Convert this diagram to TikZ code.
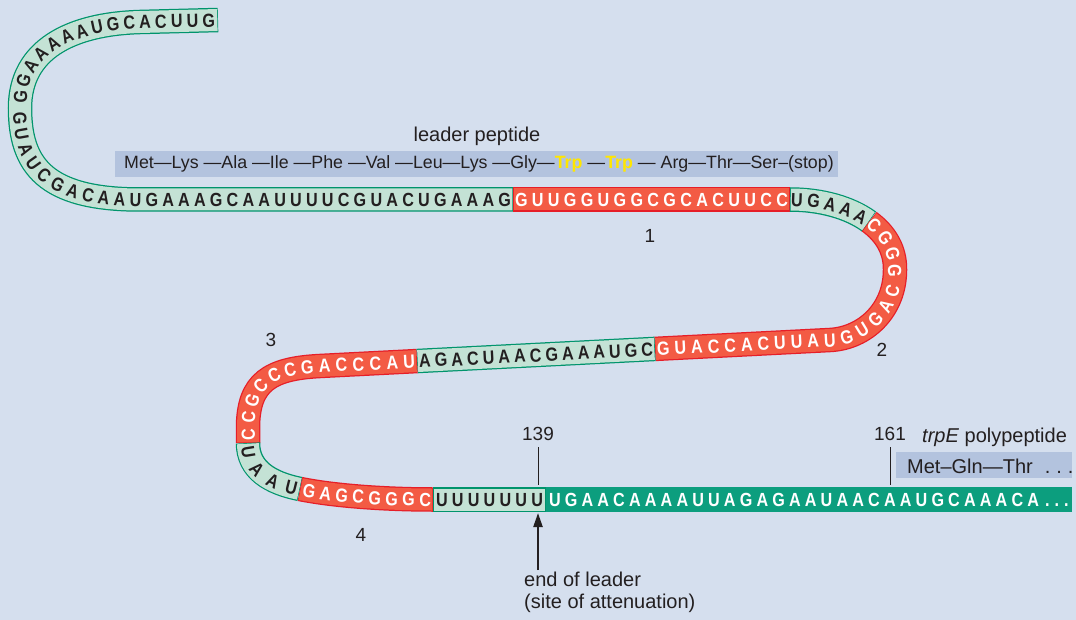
\documentclass[tikz,border=0pt]{standalone}
\usepackage{fontspec}
\setmainfont{Liberation Sans}
\newfontfamily\rnafont{Liberation Sans}[FakeStretch=0.85]
\usetikzlibrary{decorations.text,arrows.meta}
\definecolor{bg}{HTML}{D5DFEE}
\definecolor{boxc}{HTML}{B3C3DE}
\definecolor{gfillc}{HTML}{C4E2D5}
\definecolor{glinec}{HTML}{00946C}
\definecolor{rfillc}{HTML}{F35B44}
\definecolor{rlinec}{HTML}{E61E28}
\definecolor{darkc}{HTML}{0C9E7E}
\definecolor{ink}{HTML}{231F20}
\definecolor{trpy}{HTML}{FFE600}
\newcommand\dk{\rnafont\fontsize{19}{20}\selectfont\bfseries\color{ink}}
\newcommand\wt{\rnafont\fontsize{19}{20}\selectfont\bfseries\color{white}}
\newcommand\trp{\textcolor{trpy}{\bfseries Trp}}
\newcommand\ribseg[3]{\draw[ribout,draw=#1] #3; \draw[ribin,draw=#2] #3;}
\begin{document}
\begin{tikzpicture}[x=1pt,y=-1pt,
  ribout/.style={line width=24.5pt,line cap=butt},
  ribin/.style={line width=22pt,line cap=butt,shorten <=0.7pt,shorten >=0.7pt},
  rna/.style={decorate,decoration={text along path,text align={fit to path},raise=-6.8pt,text={#1}}},
  lbl/.style={font=\fontsize{20}{24}\selectfont,text=ink,inner sep=0pt},
  num/.style={font=\fontsize{19}{22}\selectfont,text=ink,inner sep=0pt},
  tick/.style={draw=ink,line width=1pt}]
\useasboundingbox (0,0) rectangle (1076,620);
\fill[bg] (0,0) rectangle (1076,620);
% ribbon
\ribseg{glinec}{gfillc}{(218,20) -- (140,22) .. controls (70,24) and (20,50) .. (20,108) .. controls (20,165) and (45,199.5) .. (140,199.5) -- (513,199.5)}
\ribseg{rlinec}{rfillc}{(513,199.5) -- (790,199.5)}
\ribseg{glinec}{gfillc}{(790,199.5) .. controls (820.25,199.5) and (849.29,207.21) .. (869.13,221.64)}
\ribseg{rlinec}{rfillc}{(869.13,221.64) .. controls (885.37,233.45) and (895.45,249.75) .. (895,270) .. controls (895,310) and (865,338.2) .. (830,340) -- (655,348.92)}
\ribseg{glinec}{gfillc}{(655,348.92) -- (417,361.05)}
\ribseg{rlinec}{rfillc}{(417,361.05) -- (320,366) .. controls (270,368.5) and (248,382) .. (248,428) -- (248,443)}
\ribseg{glinec}{gfillc}{(248,443) .. controls (248,470) and (270.6,483.1) .. (300,489)}
\ribseg{rlinec}{rfillc}{(300,489) .. controls (339.2,496.8) and (393,499.5) .. (433,499.5)}
\ribseg{glinec}{gfillc}{(433,499.5) -- (546,499.5)}
\ribseg{darkc}{darkc}{(546,499.5) -- (1072,499.5)}
% sequence text
\path[rna={|\dk|GGAAAAAUGCACUUG}] (20,103) .. controls (20,50) and (70,24) .. (140,22) -- (215,20);
\path[rna={|\dk|GUAUCGACAAUGAAAGCAAUUUUCGUACUGAAAG}] (20,112) .. controls (20,165) and (45,199.5) .. (140,199.5) -- (511,199.5);
\path[rna={|\wt|GUUGGUGGCGCACUUCC}] (515,199.5) -- (788,199.5);
\path[rna={|\dk|UGAAA|\wt|CGGG}] (791,199.5) .. controls (845,199.5) and (896,225) .. (895,270) -- (895,277);
\path[rna={|\wt|CCGCCCGACCCAU}] (248,440) -- (248,428) .. controls (248,382) and (270,368.5) .. (320,366) -- (415,361.15);
\path[rna={|\dk|AGACUAACGAAAUGC}] (419,360.95) -- (653,349.02);
\path[rna={|\wt|GUACCACUUAUGUGAC}] (657,348.82) -- (830,340) .. controls (860.45,338.43) and (887.12,316.89) .. (893.53,284.97);
\path[rna={|\dk|UAAU}] (248,446) .. controls (248,470) and (270.6,483.1) .. (297,488.4);
\path[rna={|\wt|GAGCGGGC}] (303,489.6) .. controls (339.2,496.8) and (393,499.5) .. (431,499.5);
\path[rna={|\dk|UUUUUUU}] (436,499.5) -- (543,499.5);
\path[rna={|\wt|UGAACAAAAUUAGAGAAUAACAAUGCAAACA}] (549,499.5) -- (1039,499.5);
\node[anchor=base west,inner sep=0pt,font=\wt] (dots) at (1045,506.3) {.\hspace{5pt}.\hspace{5pt}.};
% leader peptide
\node[lbl] (leader) at (477,136) {leader peptide};
\fill[boxc] (115,151) rectangle (838,177);
\node[lbl,anchor=west,font=\fontsize{17.8}{20}\selectfont] (pep) at (124,164) {Met—Lys —Ala —Ile —Phe —Val —Leu—Lys —Gly—\trp{} —\trp{} — Arg—Thr—Ser–(stop)};
% region numbers
\node[num] (n1) at (650,236) {1};
\node[num] (n2) at (882,350) {2};
\node[num] (n3) at (271,340) {3};
\node[num] (n4) at (361,535) {4};
% positions
\node[num] (p139) at (538,434) {139};
\node[num] (p161) at (890,434) {161};
\coordinate (t139a) at (538,447);
\coordinate (t139b) at (538,485);
\coordinate (t161a) at (890,447);
\coordinate (t161b) at (890,485);
\draw[tick] (t139a) -- (t139b);
\draw[tick] (t161a) -- (t161b);
% trpE
\node[lbl,anchor=west] (trpe) at (922,437) {\textit{trpE} polypeptide};
\fill[boxc] (896,452) rectangle (1072,478);
\node[lbl,anchor=west] (met) at (907,466) {Met–Gln—Thr\hspace{12pt}.\hspace{6pt}.\hspace{6pt}.};
% arrow
\coordinate (arrA) at (538,570);
\coordinate (arrB) at (538,513);
\draw[draw=ink,line width=2.2pt,-{Triangle[length=14pt,width=9pt]}] (arrA) -- (arrB);
\node[lbl,anchor=north west,align=left,font=\fontsize{20}{22}\selectfont] (endl) at (524,572) {end of leader\\(site of attenuation)};
\end{tikzpicture}
\end{document}
